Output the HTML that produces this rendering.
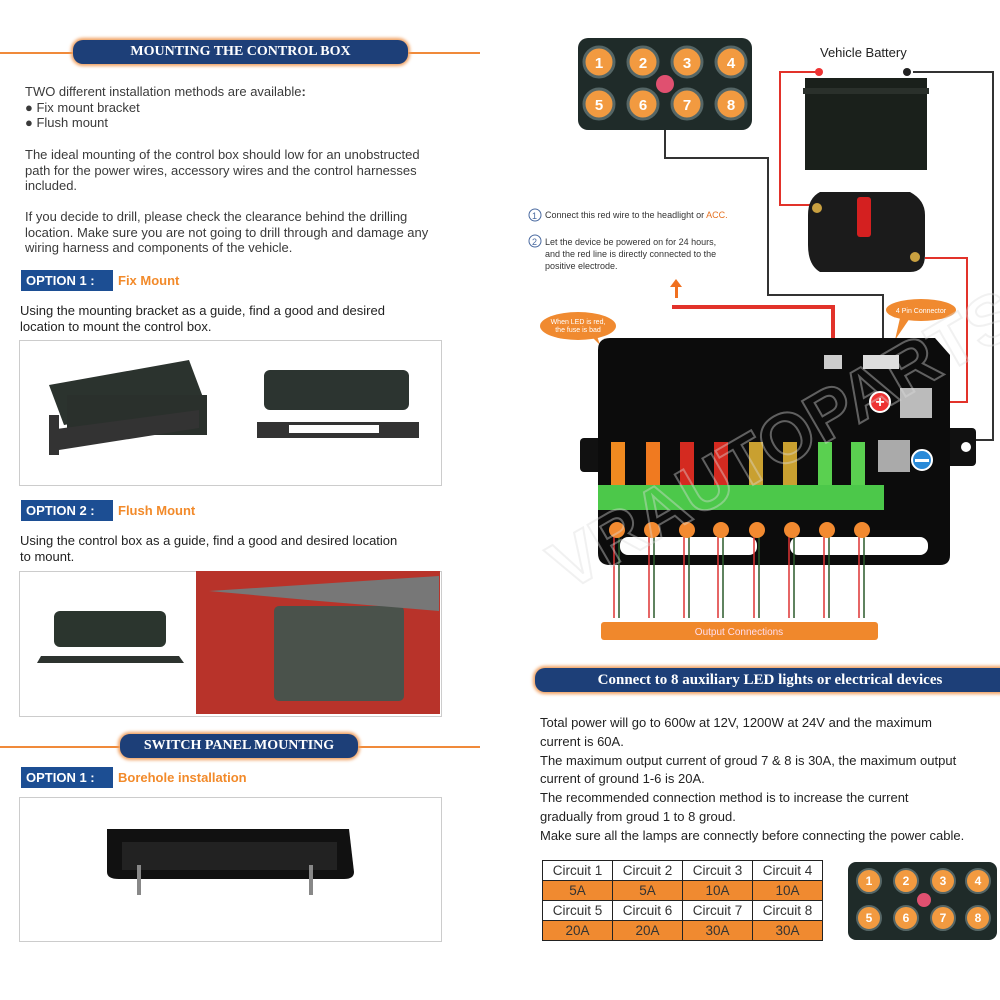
<!DOCTYPE html>
<html><head><meta charset="utf-8"><style>
body{margin:0;width:1000px;height:1000px;background:#fff;position:relative;overflow:hidden;font-family:"Liberation Sans",sans-serif;color:#333}
.a{position:absolute;white-space:nowrap}
.t{font-size:13px;line-height:15.5px;color:#3a3a3a}
.pill{position:absolute;background:#1d3f78;border-radius:10px;color:#fff;font-family:"Liberation Serif",serif;font-weight:bold;text-align:center;box-shadow:0 0 3px 2px #f0a060}
.hl{position:absolute;height:2px;background:#f08a3a}
.opt{position:absolute;background:#1c4e93;color:#fff;font-weight:bold;font-size:13px;line-height:21px;padding-left:5px;width:87px;height:21px}
.or{position:absolute;color:#f28a2a;font-weight:bold;font-size:13px}
.box{position:absolute;border:1px solid #ccc}
td{border:1.5px solid #222;padding:0;height:19px}
</style></head><body>
<div class="hl" style="left:0;top:52px;width:480px"></div>
<div class="pill" style="left:73px;top:40px;width:335px;height:24px;line-height:24px;font-size:14px">MOUNTING THE CONTROL BOX</div>
<div class="a t" style="left:25px;top:84px">TWO different installation methods are available<b>:</b><br>● Fix mount bracket<br>● Flush mount</div>
<div class="a t" style="left:25px;top:147px">The ideal mounting of the control box should low for an unobstructed<br>path for the power wires, accessory wires and the control harnesses<br>included.</div>
<div class="a t" style="left:25px;top:209px">If you decide to drill, please check the clearance behind the drilling<br>location. Make sure you are not going to drill through and damage any<br>wiring harness and components of the vehicle.</div>
<div class="opt" style="left:21px;top:270px">OPTION 1 :</div><div class="or" style="left:118px;top:273px">Fix Mount</div>
<div class="a t" style="left:20px;top:303px;color:#222">Using the mounting bracket as a guide, find a good and desired<br>location to mount the control box.</div>
<div class="box" style="left:19px;top:340px;width:421px;height:144px"></div>
<svg class="a" style="left:19px;top:340px" width="421" height="144">
<polygon points="30,45 170,20 185,60 45,85" fill="#2b332e"/><rect x="48" y="55" width="140" height="40" fill="#2a302c"/>
<polygon points="30,90 180,70 180,88 40,110" fill="#333"/><rect x="30" y="75" width="10" height="40" fill="#333"/>
<rect x="245" y="30" width="145" height="40" rx="6" fill="#2c3430"/><rect x="238" y="82" width="162" height="16" fill="#333"/><rect x="270" y="85" width="90" height="8" fill="#fff"/>
</svg>
<div class="opt" style="left:21px;top:500px">OPTION 2 :</div><div class="or" style="left:118px;top:503px">Flush Mount</div>
<div class="a t" style="left:20px;top:533px;color:#222">Using the control box as a guide, find a good and desired location<br>to mount.</div>
<div class="box" style="left:19px;top:571px;width:421px;height:144px"></div>
<svg class="a" style="left:19px;top:571px" width="421" height="144">
<rect x="35" y="40" width="112" height="36" rx="6" fill="#2b352e"/><polygon points="22,85 160,85 165,92 18,92" fill="#2d332f"/>
<rect x="177" y="0" width="244" height="143" fill="#b8332a"/><rect x="255" y="35" width="130" height="95" rx="5" fill="#4a524b"/><path d="M190 20 L420 5 L420 40 L300 30Z" fill="#777"/>
</svg>
<div class="hl" style="left:0;top:746px;width:480px"></div>
<div class="pill" style="left:120px;top:734px;width:238px;height:24px;line-height:24px;font-size:14px">SWITCH PANEL MOUNTING</div>
<div class="opt" style="left:21px;top:767px">OPTION 1 :</div><div class="or" style="left:118px;top:770px">Borehole installation</div>
<div class="box" style="left:19px;top:797px;width:421px;height:143px"></div>
<svg class="a" style="left:19px;top:797px" width="421" height="143">
<path d="M88 32 L330 32 L335 75 Q335 82 325 82 L100 82 Q88 82 88 75Z" fill="#111"/><rect x="103" y="45" width="215" height="28" fill="#222"/>
<rect x="118" y="68" width="4" height="30" fill="#888"/><rect x="290" y="68" width="4" height="30" fill="#888"/>
</svg>

<svg class="a" style="left:0;top:0" width="1000" height="660">
<g fill="none" stroke-width="2">
<path d="M665 130 V158 H768 V295 H883 V360" stroke="#333"/>
<path d="M819 72 H780 V205 H812" stroke="#e2322a"/>
<path d="M913 72 H993 V440 H925" stroke="#333"/>
<path d="M925 258 H967 V402 H922" stroke="#e2322a"/>
<path d="M672 307 H833 V362" stroke="#e2322a" stroke-width="4"/>
</g>
<rect x="578" y="38" width="174" height="92" rx="10" fill="#1f2b29"/>
<g fill="#f29a40" stroke="#566" stroke-width="3">
<circle cx="599" cy="62" r="15"/><circle cx="643" cy="62" r="15"/><circle cx="687" cy="62" r="15"/><circle cx="731" cy="62" r="15"/>
<circle cx="599" cy="104" r="15"/><circle cx="643" cy="104" r="15"/><circle cx="687" cy="104" r="15"/><circle cx="731" cy="104" r="15"/></g>
<circle cx="665" cy="84" r="9" fill="#e05070"/>
<g fill="#fff" font-size="15" font-weight="bold" font-family="Liberation Sans" text-anchor="middle">
<text x="599" y="68">1</text><text x="643" y="68">2</text><text x="687" y="68">3</text><text x="731" y="68">4</text>
<text x="599" y="110">5</text><text x="643" y="110">6</text><text x="687" y="110">7</text><text x="731" y="110">8</text></g>
<text x="820" y="57" font-size="13" fill="#222" font-family="Liberation Sans">Vehicle Battery</text>
<rect x="805" y="78" width="122" height="92" fill="#1a201b"/><rect x="803" y="88" width="126" height="6" fill="#2a302b"/>
<circle cx="819" cy="72" r="4" fill="#e33"/><circle cx="907" cy="72" r="4" fill="#222"/>
<path d="M820 192 H910 Q925 200 925 215 V255 Q925 272 910 272 H820 Q808 265 808 245 V215 Q808 198 820 192Z" fill="#1b1b1b"/>
<rect x="857" y="197" width="14" height="40" rx="3" fill="#d42020"/><circle cx="817" cy="208" r="5" fill="#c9a040"/><circle cx="915" cy="257" r="5" fill="#c9a040"/>
<g font-size="9" fill="#333" font-family="Liberation Sans">
<text x="545" y="218">Connect this red wire to the headlight or <tspan fill="#e57020">ACC.</tspan></text>
<text x="545" y="245">Let the device be powered on for 24 hours,</text>
<text x="545" y="257">and the red line is directly connected to the</text>
<text x="545" y="269">positive electrode.</text></g>
<circle cx="535" cy="215" r="6" fill="none" stroke="#4a6aa0"/><text x="532" y="219" font-size="9" fill="#4a6aa0">1</text>
<circle cx="535" cy="241" r="6" fill="none" stroke="#4a6aa0"/><text x="532" y="245" font-size="9" fill="#4a6aa0">2</text>
<path d="M675 298 V287 H670 L676 279 L682 287 H678 V298Z" fill="#f07020"/>
<ellipse cx="578" cy="326" rx="38" ry="14" fill="#f08a30"/><path d="M590 335 L600 345 L596 333Z" fill="#f08a30"/>
<text x="578" y="324" font-size="7" fill="#fff" text-anchor="middle">When LED is red,</text><text x="578" y="332" font-size="7" fill="#fff" text-anchor="middle">the fuse is bad</text>
<ellipse cx="921" cy="310" rx="35" ry="11" fill="#f08a30"/><path d="M900 318 L895 340 L910 318Z" fill="#f08a30"/>
<text x="921" y="313" font-size="7" fill="#fff" text-anchor="middle">4 Pin Connector</text>
<rect x="580" y="438" width="30" height="34" rx="4" fill="#111"/><rect x="940" y="428" width="36" height="38" rx="4" fill="#111"/>
<circle cx="966" cy="447" r="5" fill="#fff"/>
<path d="M610 338 H935 L950 355 V555 Q950 565 940 565 H610 Q598 565 598 553 V350 Q598 338 610 338Z" fill="#0c0c0c"/>
<rect x="824" y="355" width="18" height="14" fill="#ccc"/><rect x="863" y="355" width="36" height="14" fill="#ddd"/>
<rect x="900" y="388" width="32" height="30" fill="#bbb"/><rect x="878" y="440" width="32" height="32" fill="#aaa"/>
<circle cx="880" cy="402" r="10" fill="#e33" stroke="#fff" stroke-width="2"/><text x="880" y="407" fill="#fff" font-size="16" font-weight="bold" text-anchor="middle">+</text>
<circle cx="922" cy="460" r="10" fill="#2a8ad8" stroke="#fff" stroke-width="2"/><rect x="915" y="459" width="14" height="3" fill="#fff"/>
<g><rect x="611" y="442" width="14" height="44" fill="#f08a20"/><rect x="646" y="442" width="14" height="44" fill="#f07a20"/>
<rect x="680" y="442" width="14" height="44" fill="#d42a20"/><rect x="714" y="442" width="14" height="44" fill="#d42a20"/>
<rect x="749" y="442" width="14" height="44" fill="#c9a030"/><rect x="783" y="442" width="14" height="44" fill="#c9a030"/>
<rect x="818" y="442" width="14" height="44" fill="#5ad050"/><rect x="851" y="442" width="14" height="44" fill="#5ad050"/></g>
<rect x="598" y="485" width="286" height="25" fill="#4cc84a"/>
<rect x="620" y="537" width="137" height="18" rx="8" fill="#fff"/><rect x="790" y="537" width="138" height="18" rx="8" fill="#fff"/>
<g stroke-width="1.5">
<path d="M614 525 V618 M649 525 V618 M684 525 V618 M718 525 V618 M754 525 V618 M789 525 V618 M824 525 V618 M859 525 V618" stroke="#d33"/>
<path d="M619 530 V618 M654 530 V618 M689 530 V618 M723 530 V618 M759 530 V618 M794 530 V618 M829 530 V618 M864 530 V618" stroke="#2a5a2a"/></g>
<g fill="#f28a30"><circle cx="617" cy="530" r="8"/><circle cx="652" cy="530" r="8"/><circle cx="687" cy="530" r="8"/><circle cx="721" cy="530" r="8"/><circle cx="757" cy="530" r="8"/><circle cx="792" cy="530" r="8"/><circle cx="827" cy="530" r="8"/><circle cx="862" cy="530" r="8"/></g>
<rect x="601" y="622" width="277" height="18" rx="3" fill="#f0882c"/>
<text x="739" y="635" font-size="10" fill="#fde" text-anchor="middle" font-family="Liberation Sans">Output Connections</text>
<text x="760" y="470" font-size="70" font-weight="bold" fill="none" stroke="#ddd" stroke-width="2" opacity="0.4" transform="rotate(-30 760 400)" text-anchor="middle">VRAUTOPARTS</text>
</svg>
<div class="pill" style="left:535px;top:668px;width:470px;height:24px;line-height:24px;font-size:15px;border-radius:10px 0 0 10px">Connect to 8 auxiliary LED lights or electrical devices</div>
<div class="a" style="left:540px;top:714px;font-size:13px;line-height:18.8px;color:#222">Total power will go to 600w at 12V, 1200W at 24V and the maximum<br>current is 60A.<br>The maximum output current of groud 7 &amp; 8 is 30A, the maximum output<br>current of ground 1-6 is 20A.<br>The recommended connection method is to increase the current<br>gradually from groud 1 to 8 groud.<br>Make sure all the lamps are connectly before connecting the power cable.</div>
<table class="a" style="left:542px;top:860px;border-collapse:collapse;font-size:13.5px;text-align:center">
<tr style="background:#fff"><td style="width:69px">Circuit 1</td><td style="width:69px">Circuit 2</td><td style="width:69px">Circuit 3</td><td style="width:69px">Circuit 4</td></tr>
<tr style="background:#f08a30"><td>5A</td><td>5A</td><td>10A</td><td>10A</td></tr>
<tr style="background:#fff"><td>Circuit 5</td><td>Circuit 6</td><td>Circuit 7</td><td>Circuit 8</td></tr>
<tr style="background:#f08a30"><td>20A</td><td>20A</td><td>30A</td><td>30A</td></tr>
</table>
<svg class="a" style="left:848px;top:862px" width="150" height="80">
<rect x="0" y="0" width="149" height="78" rx="8" fill="#1f2b29"/>
<g fill="#f29a40" stroke="#566" stroke-width="2"><circle cx="21" cy="19" r="12"/><circle cx="58" cy="19" r="12"/><circle cx="95" cy="19" r="12"/><circle cx="130" cy="19" r="12"/>
<circle cx="21" cy="56" r="12"/><circle cx="58" cy="56" r="12"/><circle cx="95" cy="56" r="12"/><circle cx="130" cy="56" r="12"/></g>
<circle cx="76" cy="38" r="7" fill="#e05070"/>
<g fill="#fff" font-size="12" font-weight="bold" text-anchor="middle" font-family="Liberation Sans"><text x="21" y="23">1</text><text x="58" y="23">2</text><text x="95" y="23">3</text><text x="130" y="23">4</text><text x="21" y="60">5</text><text x="58" y="60">6</text><text x="95" y="60">7</text><text x="130" y="60">8</text></g>
</svg>
</body></html>
